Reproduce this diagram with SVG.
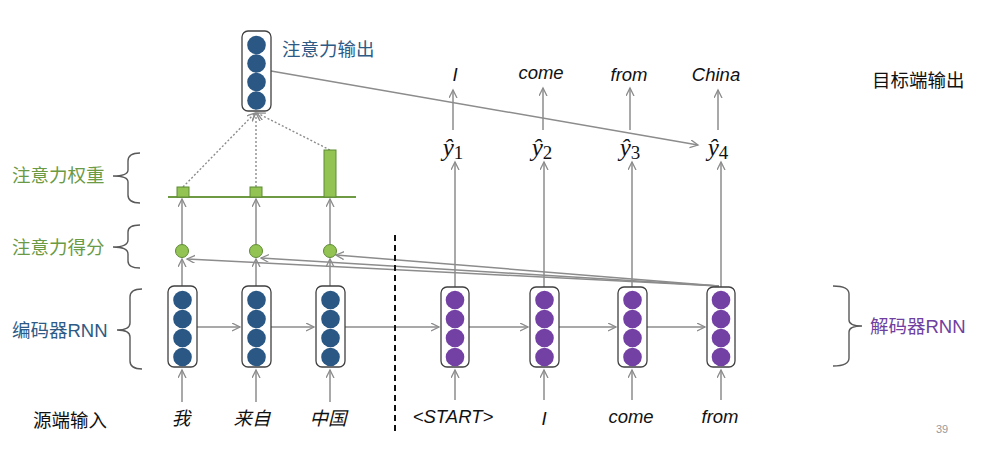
<svg xmlns="http://www.w3.org/2000/svg" width="982" height="450" viewBox="0 0 982 450">
<defs>
<marker id="ah" markerWidth="10" markerHeight="10" refX="8" refY="4" orient="auto" markerUnits="userSpaceOnUse">
<path d="M0,0 L8,4 L0,8" fill="none" stroke="#8c8c8c" stroke-width="1.3"/>
</marker>
<style>
.box{fill:#fff;stroke:#404040;stroke-width:1.3}
.enc{fill:#2a5783}
.dec{fill:#7340a4}
.ln{stroke:#8c8c8c;stroke-width:1.5;fill:none}
.dot{stroke:#8c8c8c;stroke-width:1.4;fill:none;stroke-dasharray:2,2}
.brace{stroke:#595959;stroke-width:1.4;fill:none}
.cn{font-family:"Liberation Sans","Noto Sans CJK SC",sans-serif;font-size:18.5px}
.it{font-family:"Liberation Sans","Noto Sans CJK SC",sans-serif;font-size:18.5px;font-style:italic;fill:#111}
.yh{font-family:"Liberation Serif","DejaVu Serif",serif;font-size:25px;fill:#111}
.green{fill:#92c353;stroke:#5f8a35;stroke-width:1}
</style>
</defs>
<rect width="982" height="450" fill="#fff"/>

<g id="connectors">
<line class="ln" x1="197" y1="327" x2="240" y2="327" marker-end="url(#ah)"/>
<line class="ln" x1="271" y1="327" x2="314" y2="327" marker-end="url(#ah)"/>
<line class="ln" x1="345" y1="327" x2="439" y2="327" marker-end="url(#ah)"/>
<line class="ln" x1="469" y1="327" x2="528" y2="327" marker-end="url(#ah)"/>
<line class="ln" x1="559" y1="327" x2="616" y2="327" marker-end="url(#ah)"/>
<line class="ln" x1="647" y1="327" x2="705" y2="327" marker-end="url(#ah)"/>
<line class="ln" x1="182" y1="402" x2="182" y2="370" marker-end="url(#ah)"/>
<line class="ln" x1="256" y1="402" x2="256" y2="370" marker-end="url(#ah)"/>
<line class="ln" x1="330" y1="402" x2="330" y2="370" marker-end="url(#ah)"/>
<line class="ln" x1="455" y1="400" x2="455" y2="370" marker-end="url(#ah)"/>
<line class="ln" x1="544" y1="400" x2="544" y2="370" marker-end="url(#ah)"/>
<line class="ln" x1="632" y1="400" x2="632" y2="370" marker-end="url(#ah)"/>
<line class="ln" x1="721" y1="400" x2="721" y2="370" marker-end="url(#ah)"/>
<line class="ln" x1="182" y1="286" x2="182" y2="259" marker-end="url(#ah)"/>
<line class="ln" x1="256" y1="286" x2="256" y2="259" marker-end="url(#ah)"/>
<line class="ln" x1="330" y1="286" x2="330" y2="259" marker-end="url(#ah)"/>
<line class="ln" x1="182" y1="244" x2="182" y2="199" marker-end="url(#ah)"/>
<line class="ln" x1="256" y1="244" x2="256" y2="199" marker-end="url(#ah)"/>
<line class="ln" x1="330" y1="244" x2="330" y2="199" marker-end="url(#ah)"/>
<line class="ln" x1="719" y1="286" x2="187" y2="259" marker-end="url(#ah)"/>
<line class="ln" x1="719" y1="286" x2="261" y2="258" marker-end="url(#ah)"/>
<line class="ln" x1="719" y1="286" x2="336" y2="255" marker-end="url(#ah)"/>
<line class="dot" x1="183" y1="187" x2="255" y2="113" marker-end="url(#ah)"/>
<line class="dot" x1="256" y1="187" x2="256" y2="113" marker-end="url(#ah)"/>
<line class="dot" x1="330" y1="150" x2="257" y2="113" marker-end="url(#ah)"/>
<line class="ln" x1="271" y1="71" x2="698" y2="145" marker-end="url(#ah)"/>
<line class="ln" x1="455" y1="287" x2="455" y2="162" marker-end="url(#ah)"/>
<line class="ln" x1="544" y1="287" x2="544" y2="162" marker-end="url(#ah)"/>
<line class="ln" x1="632" y1="287" x2="632" y2="162" marker-end="url(#ah)"/>
<line class="ln" x1="721" y1="287" x2="721" y2="162" marker-end="url(#ah)"/>
<line class="ln" x1="453" y1="130" x2="453" y2="90" marker-end="url(#ah)"/>
<line class="ln" x1="543" y1="130" x2="543" y2="88" marker-end="url(#ah)"/>
<line class="ln" x1="630" y1="130" x2="630" y2="88" marker-end="url(#ah)"/>
<line class="ln" x1="718" y1="130" x2="718" y2="90" marker-end="url(#ah)"/>
<line x1="395" y1="235" x2="395" y2="432" stroke="#111" stroke-width="2" stroke-dasharray="6,4"/>
</g>

<g id="attn-output">
<rect class="box" x="242" y="31" width="29" height="80" rx="6"/>
<circle class="enc" cx="256.5" cy="45" r="9.3"/>
<circle class="enc" cx="256.5" cy="63.5" r="9.3"/>
<circle class="enc" cx="256.5" cy="82" r="9.3"/>
<circle class="enc" cx="256.5" cy="100.5" r="9.3"/>
<text class="cn" x="282" y="56" fill="#2e5a86">注意力输出</text>
</g>

<g id="attn-weights">
<line x1="168" y1="197" x2="356" y2="197" stroke="#6f9a44" stroke-width="1.8"/>
<rect class="green" x="177" y="187" width="12" height="10"/>
<rect class="green" x="250" y="187" width="12" height="10"/>
<rect class="green" x="324" y="150" width="12" height="47"/>
</g>

<g id="attn-scores">
<circle class="green" cx="182" cy="251" r="6.5"/>
<circle class="green" cx="256" cy="251" r="6.5"/>
<circle class="green" cx="330" cy="251" r="6.5"/>
</g>

<g id="encoder">
<rect class="box" x="168" y="286" width="29" height="81" rx="6"/>
<circle class="enc" cx="182.5" cy="300" r="9.3"/><circle class="enc" cx="182.5" cy="319" r="9.3"/><circle class="enc" cx="182.5" cy="338" r="9.3"/><circle class="enc" cx="182.5" cy="357" r="9.3"/>
<rect class="box" x="242" y="286" width="29" height="81" rx="6"/>
<circle class="enc" cx="256.5" cy="300" r="9.3"/><circle class="enc" cx="256.5" cy="319" r="9.3"/><circle class="enc" cx="256.5" cy="338" r="9.3"/><circle class="enc" cx="256.5" cy="357" r="9.3"/>
<rect class="box" x="316" y="286" width="29" height="81" rx="6"/>
<circle class="enc" cx="330.5" cy="300" r="9.3"/><circle class="enc" cx="330.5" cy="319" r="9.3"/><circle class="enc" cx="330.5" cy="338" r="9.3"/><circle class="enc" cx="330.5" cy="357" r="9.3"/>
</g>

<g id="decoder">
<rect class="box" x="441" y="287" width="28" height="80" rx="6"/>
<circle class="dec" cx="455" cy="300" r="9.3"/><circle class="dec" cx="455" cy="319" r="9.3"/><circle class="dec" cx="455" cy="338" r="9.3"/><circle class="dec" cx="455" cy="357" r="9.3"/>
<rect class="box" x="530" y="287" width="29" height="80" rx="6"/>
<circle class="dec" cx="544.5" cy="300" r="9.3"/><circle class="dec" cx="544.5" cy="319" r="9.3"/><circle class="dec" cx="544.5" cy="338" r="9.3"/><circle class="dec" cx="544.5" cy="357" r="9.3"/>
<rect class="box" x="618" y="287" width="29" height="80" rx="6"/>
<circle class="dec" cx="632.5" cy="300" r="9.3"/><circle class="dec" cx="632.5" cy="319" r="9.3"/><circle class="dec" cx="632.5" cy="338" r="9.3"/><circle class="dec" cx="632.5" cy="357" r="9.3"/>
<rect class="box" x="707" y="287" width="28" height="80" rx="6"/>
<circle class="dec" cx="721" cy="300" r="9.3"/><circle class="dec" cx="721" cy="319" r="9.3"/><circle class="dec" cx="721" cy="338" r="9.3"/><circle class="dec" cx="721" cy="357" r="9.3"/>
</g>

<g id="yhat">
<text class="yh" x="453" y="156" text-anchor="middle"><tspan font-style="italic">ŷ</tspan><tspan font-size="19" dy="3">1</tspan></text>
<text class="yh" x="542" y="156" text-anchor="middle"><tspan font-style="italic">ŷ</tspan><tspan font-size="19" dy="3">2</tspan></text>
<text class="yh" x="630" y="156" text-anchor="middle"><tspan font-style="italic">ŷ</tspan><tspan font-size="19" dy="3">3</tspan></text>
<text class="yh" x="718" y="156" text-anchor="middle"><tspan font-style="italic">ŷ</tspan><tspan font-size="19" dy="3">4</tspan></text>
</g>

<g id="target-words">
<text class="it" x="455" y="81" text-anchor="middle" font-size="20.5">I</text>
<text class="it" x="541" y="79" text-anchor="middle" font-size="20.5">come</text>
<text class="it" x="629" y="81" text-anchor="middle" font-size="20.5">from</text>
<text class="it" x="716" y="81" text-anchor="middle" font-size="20.5">China</text>
<text class="cn" x="872" y="87" fill="#111">目标端输出</text>
</g>

<g id="source-words">
<text class="it" x="181" y="425" text-anchor="middle" font-size="21">我</text>
<text class="it" x="252" y="425" text-anchor="middle" font-size="20">来自</text>
<text class="it" x="328" y="425" text-anchor="middle" font-size="20">中国</text>
<text class="it" x="453" y="423" text-anchor="middle">&lt;START&gt;</text>
<text class="it" x="544" y="425" text-anchor="middle">I</text>
<text class="it" x="631" y="423" text-anchor="middle">come</text>
<text class="it" x="720" y="423" text-anchor="middle">from</text>
<text class="cn" x="33" y="427" fill="#111">源端输入</text>
</g>

<g id="labels">
<text class="cn" x="12" y="182" fill="#6b9a45">注意力权重</text>
<path class="brace" d="M140,153 Q128,153 128,161 L128,170 Q128,176 113,176 Q128,176 128,182 L128,195 Q128,203 140,203"/>
<text class="cn" x="12" y="254" fill="#6b9a45">注意力得分</text>
<path class="brace" d="M140,225 Q128,225 128,232 L128,240 Q128,247 113,247 Q128,247 128,254 L128,261 Q128,268 140,268"/>
<text class="cn" x="12" y="337" fill="#2e5a86">编码器RNN</text>
<path class="brace" d="M142,289 Q130,289 130,297 L130,323 Q130,330 117,330 Q130,330 130,337 L130,361 Q130,369 142,369"/>
<path class="brace" d="M833,286 Q849,286 849,294 L849,320 Q849,326 862,326 Q849,326 849,332 L849,358 Q849,366 833,366"/>
<text class="cn" x="870" y="333" fill="#7040a0">解码器RNN</text>
<text x="936" y="433" font-family="Liberation Sans, sans-serif" font-size="11" fill="#999">39</text>
</g>
</svg>
